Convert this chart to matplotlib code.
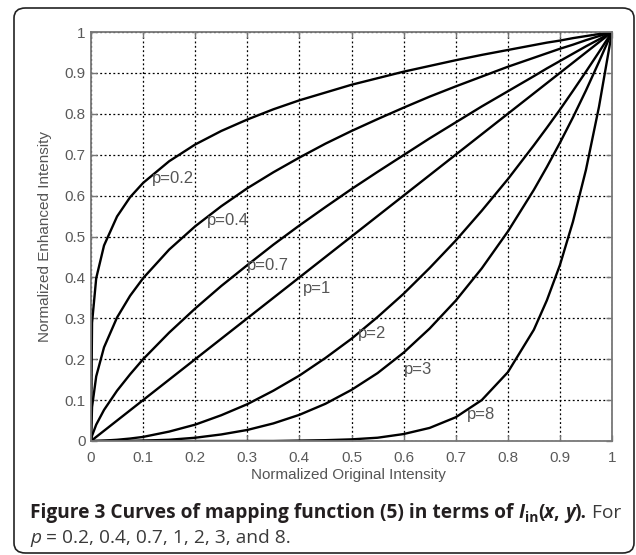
import matplotlib
matplotlib.use("Agg")
import matplotlib.pyplot as plt
from matplotlib.patches import FancyBboxPatch

# sample positions along the x axis (normalized original intensity)
x = [0, 0.002, 0.01, 0.025, 0.05, 0.075, 0.1, 0.15, 0.2, 0.25, 0.3, 0.35, 0.4, 0.45,
     0.5, 0.55, 0.6, 0.65, 0.7, 0.75, 0.8, 0.85, 0.875, 0.9, 0.925, 0.95, 0.975, 1.0]

# curve values
y_p02 = [0, 0.289, 0.398, 0.478, 0.549, 0.596, 0.631, 0.684, 0.725, 0.758, 0.786, 0.811, 0.833, 0.852,
         0.871, 0.887, 0.903, 0.917, 0.931, 0.944, 0.956, 0.968, 0.974, 0.979, 0.985, 0.990, 0.995, 1.0]
y_p04 = [0, 0.083, 0.158, 0.229, 0.302, 0.355, 0.398, 0.468, 0.525, 0.574, 0.618, 0.657, 0.693, 0.727,
         0.758, 0.787, 0.815, 0.842, 0.867, 0.891, 0.915, 0.937, 0.948, 0.959, 0.969, 0.980, 0.990, 1.0]
y_p07 = [0, 0.013, 0.040, 0.076, 0.123, 0.163, 0.200, 0.265, 0.324, 0.379, 0.430, 0.480, 0.527, 0.572,
         0.616, 0.658, 0.699, 0.740, 0.779, 0.818, 0.855, 0.892, 0.911, 0.929, 0.947, 0.965, 0.982, 1.0]
y_p1 = [0, 0.002, 0.01, 0.025, 0.05, 0.075, 0.1, 0.15, 0.2, 0.25, 0.3, 0.35, 0.4, 0.45,
        0.5, 0.55, 0.6, 0.65, 0.7, 0.75, 0.8, 0.85, 0.875, 0.9, 0.925, 0.95, 0.975, 1.0]
y_p2 = [0, 0.0, 0.0, 0.001, 0.003, 0.006, 0.01, 0.023, 0.04, 0.063, 0.09, 0.123, 0.16, 0.203,
        0.25, 0.303, 0.36, 0.423, 0.49, 0.563, 0.64, 0.723, 0.766, 0.81, 0.856, 0.903, 0.951, 1.0]
y_p3 = [0, 0.0, 0.0, 0.0, 0.0, 0.0, 0.001, 0.003, 0.008, 0.016, 0.027, 0.043, 0.064, 0.091,
        0.125, 0.166, 0.216, 0.275, 0.343, 0.422, 0.512, 0.614, 0.670, 0.729, 0.791, 0.857, 0.927, 1.0]
y_p8 = [0, 0.0, 0.0, 0.0, 0.0, 0.0, 0.0, 0.0, 0.0, 0.0, 0.0, 0.0, 0.001, 0.002,
        0.004, 0.008, 0.017, 0.032, 0.058, 0.100, 0.168, 0.272, 0.344, 0.430, 0.536, 0.663, 0.817, 1.0]

curves = [y_p02, y_p04, y_p07, y_p1, y_p2, y_p3, y_p8]
labels = ["p=0.2", "p=0.4", "p=0.7", "p=1", "p=2", "p=3", "p=8"]
label_x = [0.117, 0.222, 0.300, 0.407, 0.513, 0.600, 0.722]
label_y = [0.643, 0.538, 0.428, 0.374, 0.264, 0.174, 0.066]

ticks = [0, 0.1, 0.2, 0.3, 0.4, 0.5, 0.6, 0.7, 0.8, 0.9, 1]
tick_labels = ["0", "0.1", "0.2", "0.3", "0.4", "0.5", "0.6", "0.7", "0.8", "0.9", "1"]

plt.rcParams['font.family'] = ['Liberation Sans', 'DejaVu Sans']

fig = plt.figure(figsize=(6.36, 5.55), dpi=100)
W, H = 636, 555

# rounded frame around the figure
frame = FancyBboxPatch((14 / W, 2 / H), 620 / W, 545 / H,
                       boxstyle="round,pad=0,rounding_size=0.018",
                       transform=fig.transFigure, facecolor='none',
                       edgecolor='#222222', linewidth=1.2)
fig.patches.append(frame)

ax = fig.add_axes([91 / W, 1 - 441 / H, 521 / W, 409 / H])
for y in curves:
    ax.plot(x, y, color='black', linewidth=1.7, solid_capstyle='butt')

for t, lx, ly in zip(labels, label_x, label_y):
    ax.text(lx, ly, t, ha='left', va='center', fontsize=12, color='#555555')

ax.set_xlim(0, 1)
ax.set_ylim(0, 1)
ax.set_xticks(ticks)
ax.set_xticklabels(tick_labels)
ax.set_yticks(ticks)
ax.set_yticklabels(tick_labels)
ax.tick_params(direction='in', length=4, width=1, color='#777777',
               labelsize=11, labelcolor='#5a5a5a', top=True, right=True)
ax.tick_params(axis='x', pad=7)
ax.tick_params(axis='y', pad=4)
for s in ax.spines.values():
    s.set_color('#777777')
    s.set_linewidth(1.3)
ax.grid(True, color='black', linestyle=(0, (1.5, 2)), linewidth=0.9)
ax.set_axisbelow(True)

ax.set_xlabel('Normalized Original Intensity', fontsize=11, color='#555555')
ax.set_ylabel('Normalized Enhanced Intensity', fontsize=11, color='#555555')
ax.xaxis.set_label_coords(0.495, -34 / 409)
ax.xaxis.label.set_va('center')
ax.yaxis.set_label_coords(-46 / 521, 0.5)
ax.yaxis.label.set_va('center')

# caption, built from pieces so the styles can change inside a line
fig.canvas.draw()
renderer = fig.canvas.get_renderer()
cap_font = ['Open Sans', 'DejaVu Sans']


def put(xpx, ypx, s, size=13.8, weight='normal', style='normal', color='#231f20'):
    t = fig.text(xpx / W, 1 - ypx / H, s, fontsize=size, fontweight=weight, fontstyle=style,
                 family=cap_font, color=color, ha='left', va='baseline')
    bb = t.get_window_extent(renderer=renderer)
    return xpx + bb.width


xp = 30
xp = put(xp, 518, 'Figure 3 Curves of mapping function (5) in terms of ', weight='bold')
xp = put(xp, 518, 'I', weight='bold', style='italic')
xp = put(xp, 522, 'in', size=10, weight='bold')
xp = put(xp, 518, '(', weight='bold')
xp = put(xp, 518, 'x', weight='bold', style='italic')
xp = put(xp, 518, ', ', weight='bold')
xp = put(xp, 518, 'y', weight='bold', style='italic')
xp = put(xp, 518, ').', weight='bold')
xp = put(xp, 518, ' For', color='#3a3a3a')

xp = 30
xp = put(xp, 543, 'p', style='italic', color='#3a3a3a')
xp = put(xp, 543, ' = 0.2, 0.4, 0.7, 1, 2, 3, and 8.', color='#3a3a3a')

fig.savefig('out.png', dpi=100)
